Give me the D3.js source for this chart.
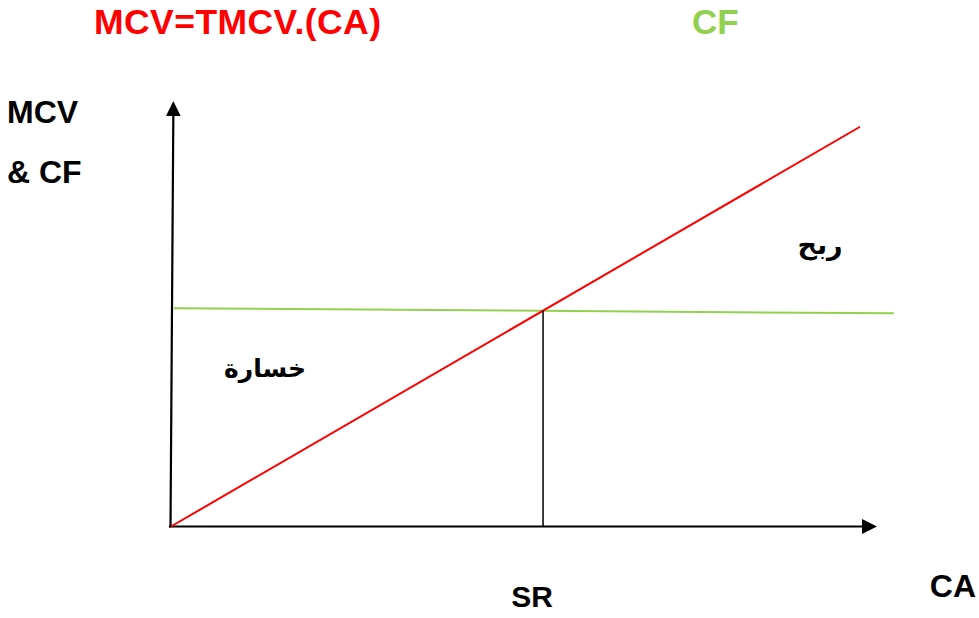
<!DOCTYPE html>
<html><head><meta charset="utf-8">
<script src="https://cdn.jsdelivr.net/npm/d3@7"></script>
<style>html,body{margin:0;padding:0;background:#fff;}svg{display:block;}</style>
</head><body>
<svg id="c" width="979" height="618"></svg>
<script>
// ---- data (arbitrary units: x = CA, y = MCV & CF) ----
const mcvX = [0, 97.6];
const mcvY = [0, 93.95];
const cfX = [0.4, 102.4];
const cfY = [51.3, 50.1];
const srValue = 52.7;
const axisXEnd = 100;      // x-axis arrow tip (data units)
const axisYEnd = 100;      // y-axis arrow tip (data units)
const axisYTopShift = 0.33; // y axis slight tilt at top (data units of x)
const titleMCV = "MCV=TMCV.(CA)";
const titleCF = "CF";
const yLabel = ["MCV", "& CF"];
const xLabel = "CA";
const srLabel = "SR";
const lossLabel = "خسارة";
const profitLabel = "ربح";

const svg = d3.select("#c");
const x = d3.scaleLinear().domain([0, 100]).range([171, 877]);
const y = d3.scaleLinear().domain([0, 100]).range([526.5, 101]);

// axes lines
svg.append("line").attr("x1", x(0) - 2).attr("y1", y(0)).attr("x2", x(axisXEnd) - 14).attr("y2", y(0))
  .attr("stroke", "#000").attr("stroke-width", 2.2);
svg.append("line").attr("x1", x(-0.07)).attr("y1", y(0) + 1).attr("x2", x(axisYTopShift)).attr("y2", y(axisYEnd) + 14)
  .attr("stroke", "#000").attr("stroke-width", 2.2);
// arrowheads
const xt = [x(axisXEnd), y(0)];
svg.append("path").attr("d", `M${xt[0]},${xt[1]}L${xt[0]-15},${xt[1]-7.5}L${xt[0]-15},${xt[1]+7.5}Z`).attr("fill", "#000");
const yt = [x(axisYTopShift), y(axisYEnd)];
svg.append("path").attr("d", `M${yt[0]},${yt[1]}L${yt[0]-7.3},${yt[1]+15}L${yt[0]+7.3},${yt[1]+15}Z`).attr("fill", "#000");

const line = d3.line().x(d => x(d[0])).y(d => y(d[1]));
// CF line
svg.append("path").datum(d3.zip(cfX, cfY)).attr("d", line)
  .attr("fill", "none").attr("stroke", "#92d050").attr("stroke-width", 2);
// MCV line
svg.append("path").datum(d3.zip(mcvX, mcvY)).attr("d", line)
  .attr("fill", "none").attr("stroke", "#ff0000").attr("stroke-width", 2);
// SR vertical
const srY = mcvY[1] / mcvX[1] * srValue;
svg.append("line").attr("x1", x(srValue)).attr("x2", x(srValue)).attr("y1", y(srY)).attr("y2", y(0))
  .attr("stroke", "#000").attr("stroke-width", 1.5);

const font = "Arial, 'Liberation Sans', sans-serif";
svg.append("text").attr("x", 94).attr("y", 34).text(titleMCV)
  .attr("textLength", 287).attr("lengthAdjust", "spacing")
  .attr("font-family", font).attr("font-weight", "bold").attr("font-size", 35.5).attr("fill", "#ff0000");
svg.append("text").attr("x", 692).attr("y", 34).text(titleCF)
  .attr("font-family", font).attr("font-weight", "bold").attr("font-size", 35).attr("fill", "#92d050");
svg.selectAll("text.yl").data(yLabel).join("text").attr("class", "yl")
  .attr("x", 7).attr("y", (d, i) => 123 + i * 60).text(d => d)
  .attr("font-family", font).attr("font-weight", "bold").attr("font-size", 32).attr("fill", "#000");
svg.append("text").attr("x", x(srValue) - 11).attr("y", 607).attr("text-anchor", "middle").text(srLabel)
  .attr("font-family", font).attr("font-weight", "bold").attr("font-size", 30).attr("fill", "#000");
svg.append("text").attr("x", 976).attr("y", 597).attr("text-anchor", "end").text(xLabel)
  .attr("font-family", font).attr("font-weight", "bold").attr("font-size", 32).attr("fill", "#000");
const afont = "'DejaVu Sans', 'Noto Sans', sans-serif";
svg.append("text").attr("x", 265).attr("y", 377).attr("text-anchor", "middle").attr("direction", "rtl").text(lossLabel)
  .attr("font-family", afont).attr("font-weight", "bold").attr("font-size", 25).attr("fill", "#000");
svg.append("text").attr("x", 820).attr("y", 254).attr("text-anchor", "middle").attr("direction", "rtl").text(profitLabel)
  .attr("font-family", afont).attr("font-weight", "bold").attr("font-size", 27).attr("fill", "#000");
</script>
</body></html>
